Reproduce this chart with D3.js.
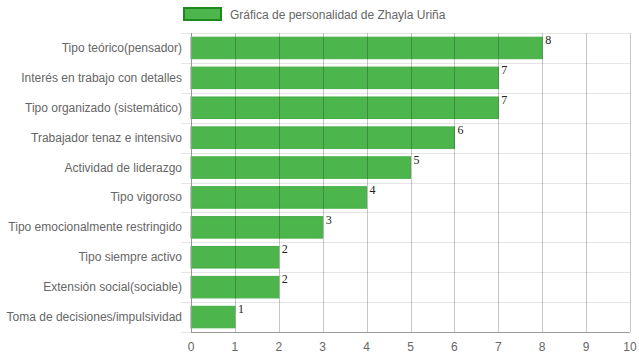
<!DOCTYPE html>
<html><head><meta charset="utf-8">
<script src="https://cdn.jsdelivr.net/npm/d3@7"></script>
<style>body{margin:0;background:#fff}svg{display:block}</style>
</head><body>
<script>
const categories = ["Tipo teórico(pensador)","Interés en trabajo con detalles","Tipo organizado (sistemático)","Trabajador tenaz e intensivo","Actividad de liderazgo","Tipo vigoroso","Tipo emocionalmente restringido","Tipo siempre activo","Extensión social(sociable)","Toma de decisiones/impulsividad"];
const values = [8,7,7,6,5,4,3,2,2,1];
const xTicks = [0,1,2,3,4,5,6,7,8,9,10];
const seriesName = "Gráfica de personalidad de Zhayla Uriña";

const W=639,H=360, L=191, R=630, T=33, B=332;
const svg=d3.select("body").append("svg").attr("width",W).attr("height",H);
const font="'Liberation Sans', Arial, sans-serif";
const x=d3.scaleLinear().domain([0,10]).range([L,R]);
const y=d3.scaleBand().domain(categories).range([T,B]).paddingInner(0).paddingOuter(0);
const barH=y.bandwidth()*0.72;

// horizontal grid lines (category boundaries)
const bounds=categories.map(c=>y(c)).concat([B]);
svg.append("g").selectAll("line").data(bounds).join("line")
  .attr("x1",L-10).attr("x2",R).attr("y1",d=>Math.round(d)+0.5).attr("y2",d=>Math.round(d)+0.5)
  .attr("stroke","#e5e5e5").attr("stroke-width",1);

// bars
svg.append("g").selectAll("rect").data(values).join("rect")
  .attr("x",x(0)).attr("y",(d,i)=>y(categories[i])+(y.bandwidth()-barH)/2)
  .attr("width",d=>x(d)-x(0)).attr("height",barH)
  .attr("fill","#4cb64c").attr("stroke","#46ad46").attr("stroke-width",1);

// vertical grid lines
svg.append("g").selectAll("line").data(xTicks).join("line")
  .attr("x1",d=>Math.round(x(d))+0.5).attr("x2",d=>Math.round(x(d))+0.5)
  .attr("y1",T).attr("y2",B)
  .attr("stroke","rgba(0,0,0,0.22)").attr("stroke-width",1);

// axis lines
svg.append("line").attr("x1",L).attr("x2",R).attr("y1",B+0.5).attr("y2",B+0.5).attr("stroke","#999");
svg.append("line").attr("x1",L+0.5).attr("x2",L+0.5).attr("y1",T).attr("y2",B).attr("stroke","#999");

// x tick labels
svg.append("g").selectAll("text").data(xTicks).join("text")
  .attr("x",d=>x(d)).attr("y",B+19).attr("text-anchor","middle")
  .attr("font-family",font).attr("font-size",12).attr("fill","#666").text(d=>d);

// y labels
svg.append("g").selectAll("text").data(categories).join("text")
  .attr("x",L-9).attr("y",d=>y(d)+y.bandwidth()/2+4).attr("text-anchor","end")
  .attr("font-family",font).attr("font-size",12).attr("fill","#666").text(d=>d);

// value labels
svg.append("g").selectAll("text").data(values).join("text")
  .attr("x",d=>x(d)+3).attr("y",(d,i)=>y(categories[i])+(y.bandwidth()-barH)/2+7)
  .attr("font-family","'Liberation Serif', 'Times New Roman', serif").attr("font-size",12).attr("fill","#222").text(d=>d);

// legend
svg.append("rect").attr("x",184).attr("y",8).attr("width",37).attr("height",12)
  .attr("fill","#4cb64c").attr("stroke","#1e8a1e").attr("stroke-width",2);
svg.append("text").attr("x",230).attr("y",18.5).attr("font-family",font).attr("font-size",12)
  .attr("fill","#666").text(seriesName);
</script>
</body></html>
